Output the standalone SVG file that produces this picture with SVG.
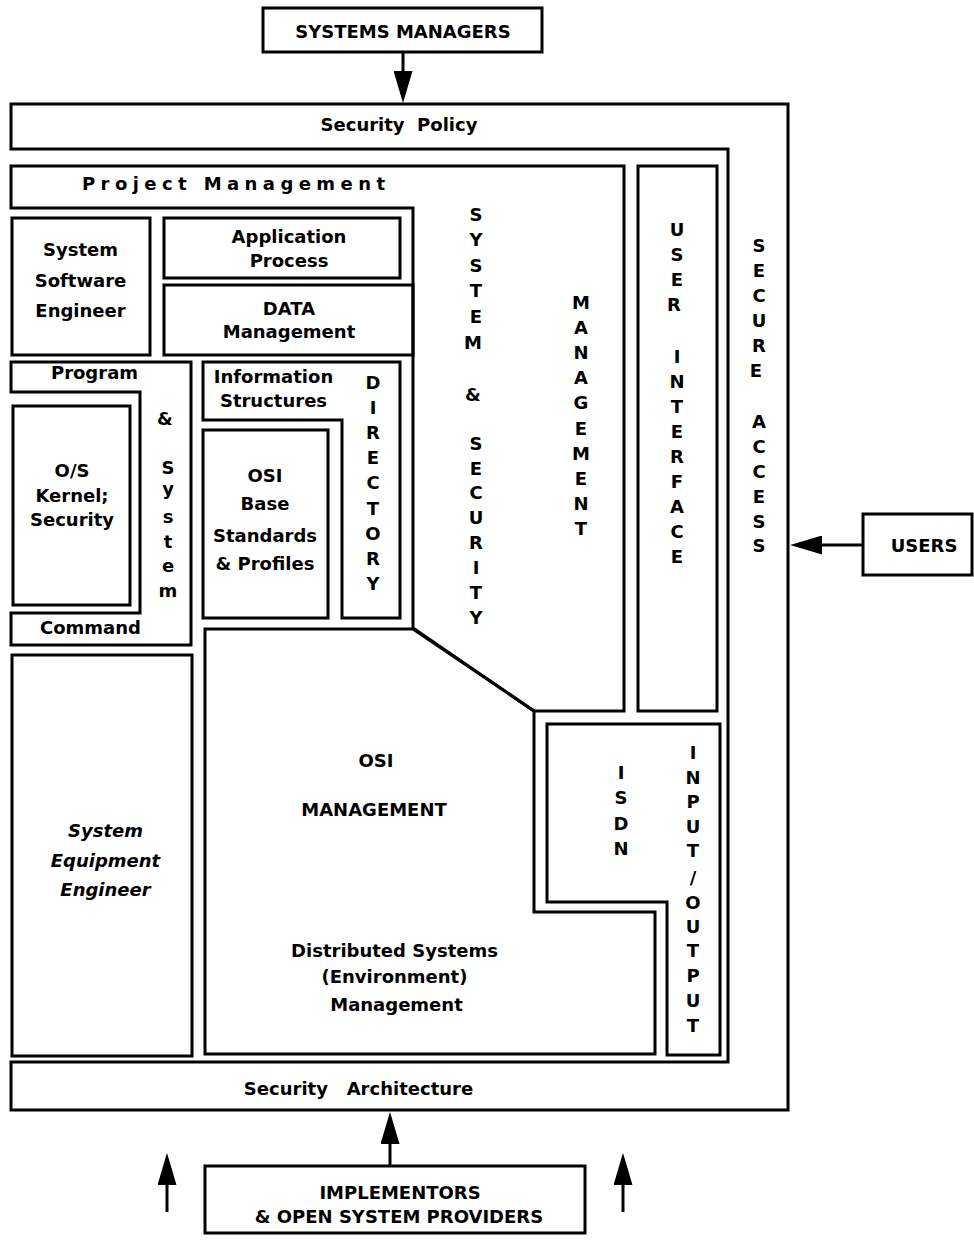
<svg xmlns="http://www.w3.org/2000/svg" width="974" height="1242" viewBox="0 0 974 1242">
  <style>
    .b { fill: none; stroke: #000; stroke-width: 3; stroke-linejoin: miter; }
    .c { fill: none; stroke: #000; stroke-width: 3; }
    .t { font-family: "DejaVu Sans", "Liberation Sans", sans-serif; font-weight: bold; font-size: 18px; fill: #000; text-anchor: middle; }
    .s { text-anchor: start; }
    .i { font-style: italic; }
    .p { white-space: pre; }
  </style>
  <defs>
    <marker id="ah" markerUnits="userSpaceOnUse" markerWidth="32" markerHeight="19" refX="24" refY="9.5" orient="auto">
      <path d="M0,0 L32,9.5 L0,19 Z" fill="#000"/>
    </marker>
  </defs>
  <rect x="0" y="0" width="974" height="1242" fill="#fff"/>

  <g id="systems-managers">
    <rect class="b" x="263" y="8" width="279" height="44"/>
    <text class="t" x="403" y="37.5">SYSTEMS MANAGERS</text>
  </g>

  <g id="security-frame">
    <path class="b" d="M11,149 V104 H788 V1110 H11 V1062 H728 V149 Z"/>
    <text class="t p" x="399" y="131">Security  Policy</text>
    <text class="t p" x="358.5" y="1095">Security   Architecture</text>
    <text class="t">
      <tspan x="759" y="251.5">S</tspan><tspan x="759" y="276.5">E</tspan><tspan x="759" y="301.5">C</tspan><tspan x="759" y="326.5">U</tspan><tspan x="759" y="351.5">R</tspan><tspan x="759" y="376.5">E</tspan>
      <tspan x="759" y="427.5">A</tspan><tspan x="759" y="452.5">C</tspan><tspan x="759" y="477.5">C</tspan><tspan x="759" y="502.5">E</tspan><tspan x="759" y="527.5">S</tspan><tspan x="759" y="552">S</tspan>
    </text>
  </g>

  <g id="project-management">
    <path class="b" d="M11,166 H624 V711 H534 L413,628 V208 H11 Z"/>
    <text class="t s" x="82" y="190" textLength="303" lengthAdjust="spacing">Project Management</text>
    <text class="t">
      <tspan x="476" y="220.5">S</tspan><tspan x="476" y="246">Y</tspan><tspan x="476" y="272">S</tspan><tspan x="476" y="297">T</tspan><tspan x="476" y="323">E</tspan><tspan x="476" y="348.5">M</tspan>
      <tspan x="476" y="400.5">&amp;</tspan>
      <tspan x="476" y="449.5">S</tspan><tspan x="476" y="474.5">E</tspan><tspan x="476" y="499">C</tspan><tspan x="476" y="524">U</tspan><tspan x="476" y="549">R</tspan><tspan x="476" y="574">I</tspan><tspan x="476" y="599">T</tspan><tspan x="476" y="623.5">Y</tspan>
    </text>
    <text class="t">
      <tspan x="581" y="308.5">M</tspan><tspan x="581" y="333.7">A</tspan><tspan x="581" y="358.9">N</tspan><tspan x="581" y="384.1">A</tspan><tspan x="581" y="409.3">G</tspan><tspan x="581" y="434.5">E</tspan><tspan x="581" y="459.7">M</tspan><tspan x="581" y="484.9">E</tspan><tspan x="581" y="510.1">N</tspan><tspan x="581" y="535.3">T</tspan>
    </text>
  </g>

  <g id="user-interface">
    <rect class="b" x="638" y="166" width="79" height="545"/>
    <text class="t">
      <tspan x="677" y="235.5">U</tspan><tspan x="677" y="260.5">S</tspan><tspan x="677" y="285.5">E</tspan><tspan x="677" y="310.5">R</tspan>
      <tspan x="677" y="362.5">I</tspan><tspan x="677" y="387.5">N</tspan><tspan x="677" y="412.5">T</tspan><tspan x="677" y="437.5">E</tspan><tspan x="677" y="462.5">R</tspan><tspan x="677" y="487.5">F</tspan><tspan x="677" y="512.5">A</tspan><tspan x="677" y="537.5">C</tspan><tspan x="677" y="562.5">E</tspan>
    </text>
  </g>

  <g id="system-software-engineer">
    <rect class="b" x="12" y="218" width="138" height="137"/>
    <text class="t" x="80.5" y="256">System</text>
    <text class="t" x="80.5" y="287">Software</text>
    <text class="t" x="80.5" y="317">Engineer</text>
  </g>

  <g id="application-process">
    <rect class="b" x="164" y="218" width="236" height="60"/>
    <text class="t" x="289" y="243">Application</text>
    <text class="t" x="289" y="267">Process</text>
  </g>

  <g id="data-management">
    <rect class="b" x="164" y="285" width="249" height="70"/>
    <text class="t" x="289" y="315">DATA</text>
    <text class="t" x="289" y="338">Management</text>
  </g>

  <g id="program-system-command">
    <path class="b" d="M11,362 H191 V645 H11 V613 H140 V392 H11 Z"/>
    <text class="t" x="94.5" y="379">Program</text>
    <text class="t" x="90.5" y="634">Command</text>
    <text class="t">
      <tspan x="168" y="424.5">&amp;</tspan>
      <tspan x="168" y="473.5">S</tspan><tspan x="168" y="495">y</tspan><tspan x="168" y="523">s</tspan><tspan x="168" y="548">t</tspan><tspan x="168" y="572">e</tspan><tspan x="168" y="597">m</tspan>
    </text>
  </g>

  <g id="os-kernel">
    <rect class="b" x="13" y="406" width="117" height="199"/>
    <text class="t" x="72" y="477">O/S</text>
    <text class="t" x="72" y="502">Kernel;</text>
    <text class="t" x="72" y="526">Security</text>
  </g>

  <g id="directory">
    <path class="b" d="M203,362 H400 V618 H342 V420 H203 Z"/>
    <text class="t" x="273.5" y="383">Information</text>
    <text class="t" x="273.5" y="407">Structures</text>
    <text class="t">
      <tspan x="373" y="388.5">D</tspan><tspan x="373" y="413.7">I</tspan><tspan x="373" y="438.9">R</tspan><tspan x="373" y="464.1">E</tspan><tspan x="373" y="489.3">C</tspan><tspan x="373" y="514.5">T</tspan><tspan x="373" y="539.7">O</tspan><tspan x="373" y="564.9">R</tspan><tspan x="373" y="590.1">Y</tspan>
    </text>
  </g>

  <g id="osi-base">
    <rect class="b" x="203" y="430" width="125" height="188"/>
    <text class="t" x="265" y="482">OSI</text>
    <text class="t" x="265" y="510">Base</text>
    <text class="t" x="265" y="542">Standards</text>
    <text class="t" x="265" y="570">&amp; Profiles</text>
  </g>

  <g id="system-equipment-engineer">
    <rect class="b" x="12" y="655" width="180" height="401"/>
    <text class="t i" x="105.5" y="837">System</text>
    <text class="t i" x="105.5" y="867">Equipment</text>
    <text class="t i" x="105.5" y="896">Engineer</text>
  </g>

  <g id="osi-management">
    <path class="b" d="M205,629 H413 L534,711 V912 H655 V1054 H205 Z"/>
    <text class="t" x="376" y="767">OSI</text>
    <text class="t" x="374" y="816">MANAGEMENT</text>
    <text class="t" x="394.5" y="957">Distributed Systems</text>
    <text class="t" x="394.5" y="983">(Environment)</text>
    <text class="t" x="396.5" y="1011">Management</text>
  </g>

  <g id="isdn-io">
    <path class="b" d="M547,724 H720 V1055 H667 V902 H547 Z"/>
    <text class="t">
      <tspan x="621" y="778.5">I</tspan><tspan x="621" y="803.5">S</tspan><tspan x="621" y="829.5">D</tspan><tspan x="621" y="854.5">N</tspan>
    </text>
    <text class="t">
      <tspan x="693" y="758.5">I</tspan><tspan x="693" y="783.5">N</tspan><tspan x="693" y="807.5">P</tspan><tspan x="693" y="832.5">U</tspan><tspan x="693" y="856.5">T</tspan><tspan x="693" y="883.5">/</tspan><tspan x="693" y="908.5">O</tspan><tspan x="693" y="932.5">U</tspan><tspan x="693" y="956.5">T</tspan><tspan x="693" y="981.5">P</tspan><tspan x="693" y="1006.5">U</tspan><tspan x="693" y="1031.5">T</tspan>
    </text>
  </g>

  <g id="users">
    <rect class="b" x="863" y="514" width="109" height="61"/>
    <text class="t" x="924" y="551.5">USERS</text>
  </g>

  <g id="implementors">
    <rect class="b" x="205" y="1166" width="380" height="67"/>
    <text class="t" x="400" y="1199">IMPLEMENTORS</text>
    <text class="t" x="399" y="1223">&amp; OPEN SYSTEM PROVIDERS</text>
  </g>

  <g id="connectors">
    <line class="c" x1="403" y1="52" x2="403" y2="95" marker-end="url(#ah)"/>
    <line class="c" x1="863" y1="545" x2="798" y2="545" marker-end="url(#ah)"/>
    <line class="c" x1="390" y1="1166" x2="390" y2="1120" marker-end="url(#ah)"/>
    <line class="c" x1="167" y1="1212" x2="167" y2="1161" marker-end="url(#ah)"/>
    <line class="c" x1="623" y1="1212" x2="623" y2="1161" marker-end="url(#ah)"/>
  </g>
</svg>
